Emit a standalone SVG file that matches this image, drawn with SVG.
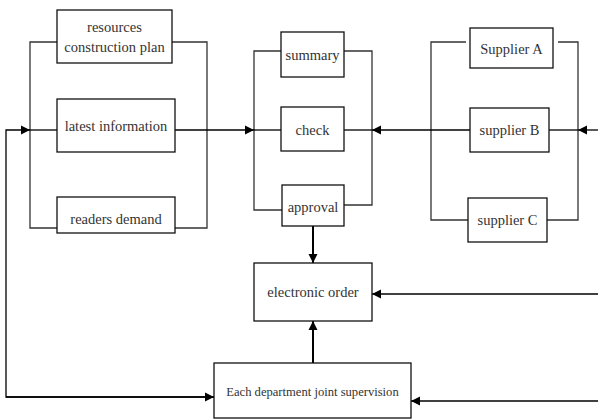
<svg xmlns="http://www.w3.org/2000/svg" width="598" height="419" viewBox="0 0 598 419">
<defs>
<marker id="ah" markerWidth="10" markerHeight="10" refX="9" refY="5" orient="auto" markerUnits="userSpaceOnUse">
<path d="M0,0.5 L9,5 L0,9.5 Z" fill="#000"/>
</marker>
</defs>
<style>
.box{fill:#fff;stroke:#111;stroke-width:1.3}
.br{fill:none;stroke:#333;stroke-width:1.3}
.ln{fill:none;stroke:#000;stroke-width:1.3}
.thick{fill:none;stroke:#000;stroke-width:2}
text{font-family:"Liberation Serif","Times New Roman",serif;font-size:14.5px;fill:#333;text-anchor:middle}
.sm{font-size:12.6px}
</style>
<rect width="598" height="419" fill="#fff"/>
<g id="connectors">
<path class="br" d="M57,42 H30 V228 H57"/>
<path class="br" d="M172,42 H207 V228 H175"/>
<path class="br" d="M281,51 H254 V210 H282"/>
<path class="br" d="M344,51 H372 V205 H344"/>
<path class="br" d="M466,42 H431 V220 H468"/>
<path class="br" d="M558,42 H578 V220 H547"/>
<path class="ln" d="M30,130 H57"/>
<path class="ln" d="M175,130 H254" marker-end="url(#ah)"/>
<path class="ln" d="M254,130 H281"/>
<path class="ln" d="M344,130 H372"/>
<path class="ln" d="M431,130 H372" marker-end="url(#ah)"/>
<path class="ln" d="M431,130 H470"/>
<path class="ln" d="M549,130 H578"/>
<path class="ln" d="M598,130 H578" marker-end="url(#ah)"/>
<path class="ln" d="M214,397 H6 V130 H30" marker-end="url(#ah)"/>
<path class="ln" d="M6,397 H214" marker-end="url(#ah)"/>
<path class="thick" d="M313,226 V263" marker-end="url(#ah)"/>
<path class="thick" d="M313,363 V321" marker-end="url(#ah)"/>
<path class="ln" d="M598,294 H372" marker-end="url(#ah)"/>
<path class="ln" d="M598,401 H411" marker-end="url(#ah)"/>
</g>
<g id="n-resources"><rect class="box" x="57" y="10" width="115" height="53"/><text x="114.5" y="32">resources</text><text x="114.5" y="52">construction plan</text></g>
<g id="n-latest"><rect class="box" x="57" y="99" width="118" height="53"/><text x="116" y="131">latest information</text></g>
<g id="n-readers"><rect class="box" x="57" y="197" width="118" height="36"/><text x="116" y="224">readers demand</text></g>
<g id="n-summary"><rect class="box" x="281" y="32" width="63" height="45"/><text x="312.5" y="60">summary</text></g>
<g id="n-check"><rect class="box" x="281" y="107" width="63" height="44"/><text x="312.5" y="135">check</text></g>
<g id="n-approval"><rect class="box" x="282" y="185" width="62" height="41"/><text x="313" y="212">approval</text></g>
<g id="n-supA"><rect class="box" x="470" y="28" width="83" height="40"/><text x="511.5" y="54">Supplier A</text></g>
<g id="n-supB"><rect class="box" x="470" y="108" width="79" height="44"/><text x="509.5" y="135">supplier B</text></g>
<g id="n-supC"><rect class="box" x="468" y="198" width="79" height="44"/><text x="507.5" y="225">supplier C</text></g>
<g id="n-order"><rect class="box" x="254" y="263" width="118" height="58"/><text x="313" y="297">electronic order</text></g>
<g id="n-dept"><rect class="box" x="214" y="363" width="197" height="55"/><text class="sm" x="312.5" y="396">Each department joint supervision</text></g>
</svg>
